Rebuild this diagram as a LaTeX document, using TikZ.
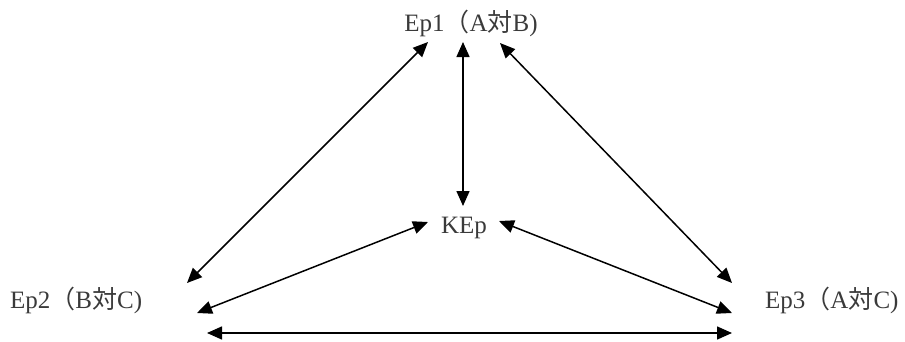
\documentclass[tikz,border=0pt]{standalone}
\usepackage{fontspec}
\setmainfont{Liberation Serif}
\newfontfamily\cjk{Noto Sans CJK JP}
\usetikzlibrary{arrows.meta}
\definecolor{txt}{HTML}{3A3A3A}
\tikzset{
  lbl/.style={inner sep=0pt, text=txt, font=\fontsize{25}{29}\selectfont},
  biarrow/.style={line width=1.5pt, {Triangle[length=15pt,width=13pt]}-{Triangle[length=15pt,width=13pt]}}
}
\begin{document}
\begin{tikzpicture}[x=1pt,y=1pt]
\useasboundingbox (0,0) rectangle (905,341);
\node[lbl, anchor=base] (ep1) at (471,309) {Ep1{\cjk （}A{\cjk 対}B)};
\node[lbl, anchor=base west] (ep2) at (10,33) {Ep2{\cjk （}B{\cjk 対}C)};
\node[lbl, anchor=base west] (ep3) at (765,33) {Ep3{\cjk （}A{\cjk 対}C)};
\node[lbl, anchor=base] (kep) at (464,108) {KEp};
% arrow end points
\coordinate (ep1l) at (428,299);
\coordinate (ep1m) at (463,299);
\coordinate (ep1r) at (500,298);
\coordinate (ep2t) at (187,58);
\coordinate (ep2m) at (197,28);
\coordinate (ep2b) at (207,8);
\coordinate (ep3t) at (732,58);
\coordinate (ep3m) at (732,28);
\coordinate (ep3b) at (732,8);
\coordinate (kepl) at (428,119);
\coordinate (kepr) at (499,120);
\coordinate (kept) at (463,135);
\draw[biarrow] (ep1l) -- (ep2t);
\draw[biarrow] (ep1m) -- (kept);
\draw[biarrow] (ep1r) -- (ep3t);
\draw[biarrow] (kepl) -- (ep2m);
\draw[biarrow] (kepr) -- (ep3m);
\draw[biarrow] (ep2b) -- (ep3b);
\end{tikzpicture}
\end{document}
